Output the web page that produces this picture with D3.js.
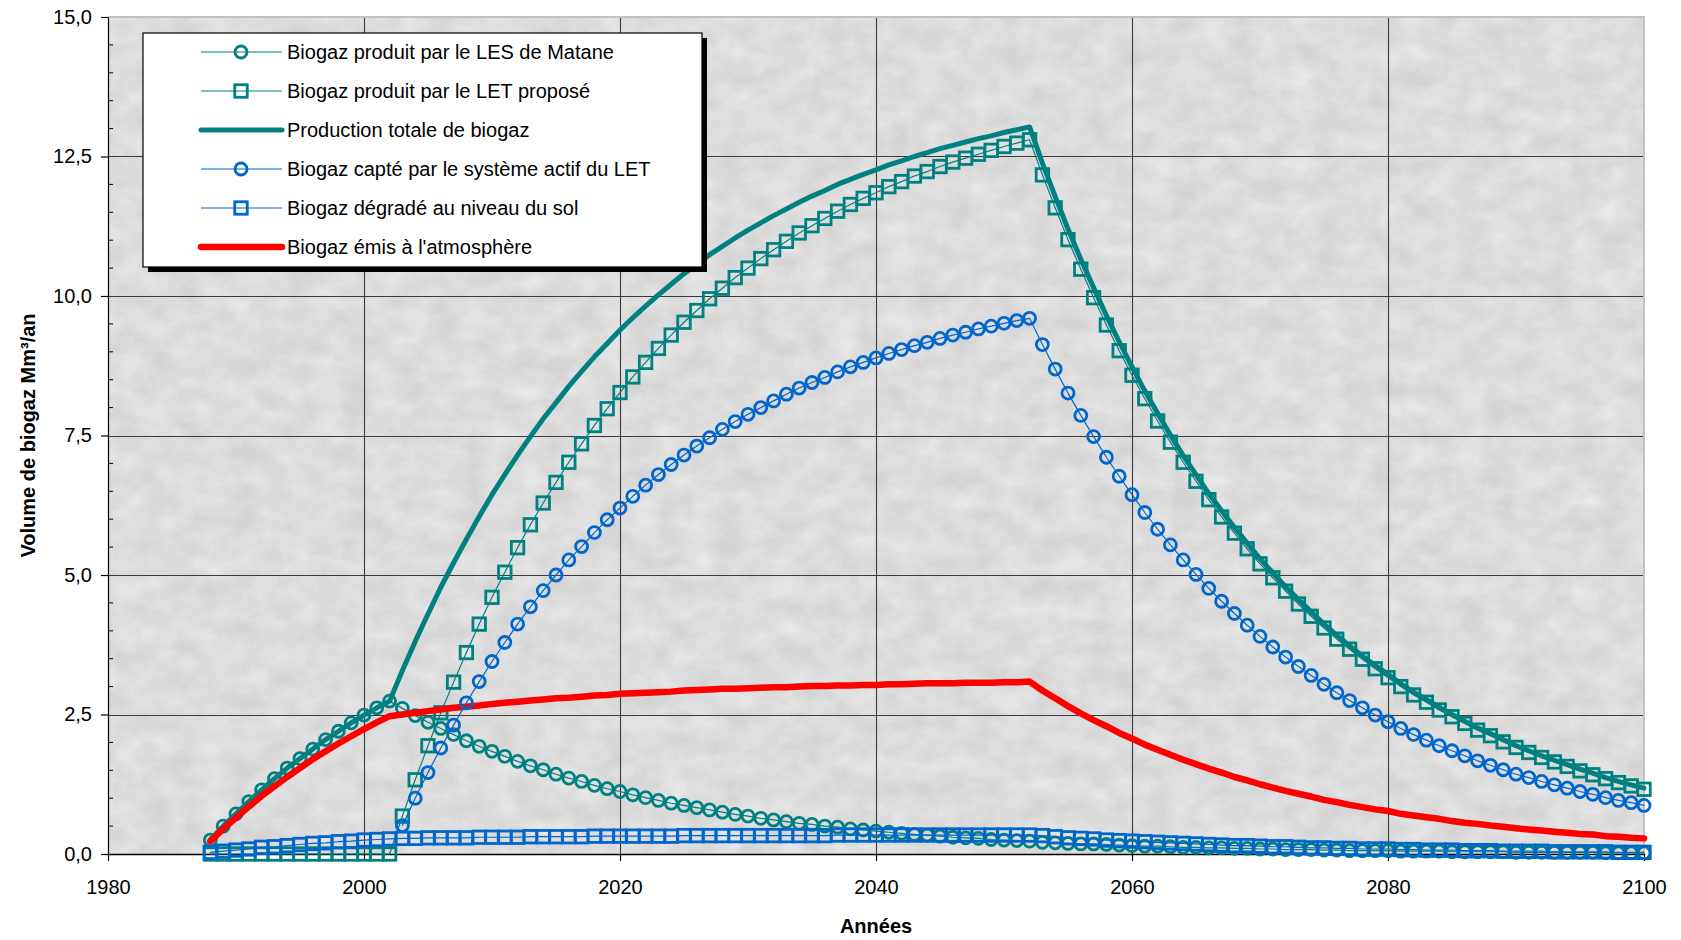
<!DOCTYPE html>
<html lang="fr">
<head>
<meta charset="utf-8">
<script src="https://cdn.jsdelivr.net/npm/d3@7"></script>
<style>
  html, body { margin: 0; padding: 0; background: #ffffff; }
  svg { display: block; }
  text { font-family: "Liberation Sans", Arial, sans-serif; fill: #000; }
</style>
</head>
<body>
<svg id="chart" width="1681" height="940"></svg>
<script>
// Années de la série (une valeur par an)
const firstYear = 1988;
const lastYear = 2100;

// Biogaz produit par le LES de Matane (Mm³/an)
const matane = [
  0.25, 0.50, 0.72, 0.94, 1.15, 1.35, 1.54, 1.71, 1.88, 2.05, 2.20, 2.35, 2.49, 2.62, 2.74,
  2.61, 2.48, 2.36, 2.25, 2.14, 2.03, 1.93, 1.84, 1.75, 1.66, 1.58, 1.51, 1.43, 1.36, 1.30,
  1.23, 1.17, 1.12, 1.06, 1.01, 0.96, 0.91, 0.87, 0.83, 0.79, 0.75, 0.71, 0.68, 0.64, 0.61,
  0.58, 0.55, 0.53, 0.50, 0.48, 0.45, 0.43, 0.41, 0.39, 0.37, 0.35, 0.34, 0.32, 0.30, 0.29,
  0.28, 0.26, 0.25, 0.24, 0.23,
  0.21, 0.20, 0.19, 0.18, 0.18, 0.17, 0.16, 0.15, 0.14, 0.14, 0.13, 0.12, 0.12, 0.11, 0.11,
  0.10, 0.10, 0.09, 0.09, 0.08, 0.08, 0.08, 0.07, 0.07, 0.06, 0.06, 0.06, 0.06, 0.05, 0.05,
  0.05, 0.05, 0.04, 0.04, 0.04, 0.04, 0.04, 0.03, 0.03, 0.03, 0.03, 0.03, 0.03, 0.03, 0.02,
  0.02, 0.02, 0.02
];

// Biogaz produit par le LET proposé
const letPropose = [
  0, 0, 0, 0, 0, 0, 0, 0, 0, 0, 0, 0, 0, 0, 0,
  0.68, 1.33, 1.94, 2.53, 3.08, 3.61, 4.12, 4.60, 5.05, 5.49, 5.90, 6.29, 6.66, 7.02, 7.35,
  7.68, 7.98, 8.27, 8.55, 8.81, 9.06, 9.30, 9.53, 9.74, 9.95, 10.14, 10.33, 10.50, 10.67, 10.83,
  10.98, 11.13, 11.26, 11.39, 11.52, 11.64, 11.75, 11.85, 11.96, 12.05, 12.15, 12.23, 12.32, 12.40, 12.47,
  12.54, 12.61, 12.68, 12.74, 12.80,
  12.17, 11.58, 11.01, 10.48, 9.97, 9.48, 9.02, 8.58, 8.16, 7.76, 7.38, 7.02, 6.68, 6.35, 6.04,
  5.75, 5.47, 5.20, 4.95, 4.71, 4.48, 4.26, 4.05, 3.85, 3.67, 3.49, 3.32, 3.16, 3.00, 2.85,
  2.72, 2.58, 2.46, 2.34, 2.22, 2.12, 2.01, 1.91, 1.82, 1.73, 1.65, 1.57, 1.49, 1.42, 1.35,
  1.28, 1.22, 1.16
];

// Production totale de biogaz
const totale = [
  0.25, 0.50, 0.72, 0.94, 1.15, 1.35, 1.54, 1.71, 1.88, 2.05, 2.20, 2.35, 2.49, 2.62, 2.74,
  3.29, 3.81, 4.30, 4.78, 5.22, 5.64, 6.05, 6.44, 6.80, 7.15, 7.48, 7.80, 8.09, 8.38, 8.65,
  8.91, 9.15, 9.39, 9.61, 9.82, 10.02, 10.21, 10.40, 10.57, 10.74, 10.89, 11.04, 11.18, 11.31, 11.44,
  11.56, 11.68, 11.79, 11.89, 12.00, 12.09, 12.18, 12.26, 12.35, 12.42, 12.50, 12.57, 12.64, 12.70, 12.76,
  12.82, 12.87, 12.93, 12.98, 13.03,
  12.38, 11.78, 11.20, 10.66, 10.15, 9.65, 9.18, 8.73, 8.30, 7.90, 7.51, 7.14, 6.80, 6.46, 6.15,
  5.85, 5.57, 5.29, 5.04, 4.79, 4.56, 4.34, 4.12, 3.92, 3.73, 3.55, 3.38, 3.22, 3.05, 2.90,
  2.77, 2.63, 2.50, 2.38, 2.26, 2.16, 2.05, 1.94, 1.85, 1.76, 1.68, 1.60, 1.52, 1.45, 1.37,
  1.30, 1.24, 1.18
];

// Biogaz capté par le système actif du LET (aucun captage avant 2003)
const capte = [
  null, null, null, null, null, null, null, null, null, null, null, null, null, null, null,
  0.51, 1.00, 1.46, 1.90, 2.31, 2.71, 3.09, 3.45, 3.79, 4.12, 4.43, 4.72, 5.00, 5.27, 5.51,
  5.76, 5.99, 6.20, 6.41, 6.61, 6.80, 6.98, 7.15, 7.31, 7.46, 7.61, 7.75, 7.88, 8.00, 8.12,
  8.24, 8.35, 8.45, 8.54, 8.64, 8.73, 8.81, 8.89, 8.97, 9.04, 9.11, 9.17, 9.24, 9.30, 9.35,
  9.41, 9.46, 9.51, 9.56, 9.60,
  9.13, 8.69, 8.26, 7.86, 7.48, 7.11, 6.77, 6.44, 6.12, 5.82, 5.54, 5.27, 5.01, 4.76, 4.53,
  4.31, 4.10, 3.90, 3.71, 3.53, 3.36, 3.20, 3.04, 2.89, 2.75, 2.62, 2.49, 2.37, 2.25, 2.14,
  2.04, 1.94, 1.85, 1.76, 1.67, 1.59, 1.51, 1.43, 1.37, 1.30, 1.24, 1.18, 1.12, 1.07, 1.01,
  0.96, 0.92, 0.87
];

// Biogaz dégradé au niveau du sol
const degrade = [
  0.03, 0.05, 0.07, 0.09, 0.12, 0.13, 0.15, 0.17, 0.19, 0.20, 0.22, 0.23, 0.25, 0.26, 0.27,
  0.28, 0.28, 0.29, 0.29, 0.29, 0.29, 0.30, 0.30, 0.30, 0.30, 0.31, 0.31, 0.31, 0.31, 0.31,
  0.32, 0.32, 0.32, 0.32, 0.32, 0.32, 0.32, 0.33, 0.33, 0.33, 0.33, 0.33, 0.33, 0.33, 0.33,
  0.33, 0.33, 0.33, 0.33, 0.34, 0.34, 0.34, 0.34, 0.34, 0.34, 0.34, 0.34, 0.34, 0.34, 0.34,
  0.34, 0.34, 0.34, 0.34, 0.34,
  0.33, 0.31, 0.29, 0.28, 0.27, 0.25, 0.24, 0.23, 0.22, 0.21, 0.20, 0.19, 0.18, 0.17, 0.16,
  0.15, 0.15, 0.14, 0.13, 0.13, 0.12, 0.11, 0.11, 0.10, 0.10, 0.09, 0.09, 0.09, 0.08, 0.08,
  0.07, 0.07, 0.07, 0.06, 0.06, 0.06, 0.05, 0.05, 0.05, 0.05, 0.04, 0.04, 0.04, 0.04, 0.04,
  0.03, 0.03, 0.03
];

// Biogaz émis à l'atmosphère
const emis = [
  0.23, 0.45, 0.65, 0.85, 1.04, 1.21, 1.38, 1.54, 1.70, 1.84, 1.98, 2.11, 2.24, 2.36, 2.47,
  2.50, 2.53, 2.56, 2.59, 2.62, 2.64, 2.66, 2.69, 2.71, 2.73, 2.75, 2.77, 2.79, 2.80, 2.82,
  2.84, 2.85, 2.87, 2.88, 2.89, 2.90, 2.91, 2.93, 2.94, 2.95, 2.96, 2.96, 2.97, 2.98, 2.99,
  2.99, 3.00, 3.01, 3.01, 3.02, 3.02, 3.03, 3.03, 3.04, 3.04, 3.05, 3.06, 3.06, 3.06, 3.07,
  3.07, 3.07, 3.08, 3.08, 3.09,
  2.93, 2.79, 2.65, 2.52, 2.40, 2.29, 2.17, 2.07, 1.96, 1.87, 1.78, 1.69, 1.61, 1.53, 1.46,
  1.38, 1.32, 1.25, 1.19, 1.13, 1.08, 1.03, 0.97, 0.93, 0.88, 0.84, 0.80, 0.77, 0.72, 0.69,
  0.66, 0.63, 0.59, 0.56, 0.54, 0.51, 0.49, 0.46, 0.44, 0.42, 0.40, 0.38, 0.36, 0.35, 0.32,
  0.31, 0.29, 0.28
];

// Graduations des axes
const xTicks = [1980, 2000, 2020, 2040, 2060, 2080, 2100];
const yTicks = [0, 2.5, 5, 7.5, 10, 12.5, 15];
const yMinorTicks = [0.5, 1, 1.5, 2, 3, 3.5, 4, 4.5, 5.5, 6, 6.5, 7, 8, 8.5, 9, 9.5,
                     10.5, 11, 11.5, 12, 13, 13.5, 14, 14.5];

const labels = [
  "Biogaz produit par le LES de Matane",
  "Biogaz produit par le LET proposé",
  "Production totale de biogaz",
  "Biogaz capté par le système actif du LET",
  "Biogaz dégradé au niveau du sol",
  "Biogaz émis à l'atmosphère"
];

const TEAL = "#008080";
const BLUE = "#0066CC";
const RED = "#FF0000";

const years = d3.range(firstYear, lastYear + 1);

const series = [
  { key: "matane",  label: labels[0], values: matane,     color: TEAL, width: 1.2, marker: "circle" },
  { key: "let",     label: labels[1], values: letPropose, color: TEAL, width: 1.2, marker: "square" },
  { key: "totale",  label: labels[2], values: totale,     color: TEAL, width: 5,   marker: null },
  { key: "capte",   label: labels[3], values: capte,      color: BLUE, width: 1.2, marker: "circle" },
  { key: "degrade", label: labels[4], values: degrade,    color: BLUE, width: 1.2, marker: "square" },
  { key: "emis",    label: labels[5], values: emis,       color: RED,  width: 6.5, marker: null }
];

const svg = d3.select("#chart");
const plot = { left: 108, right: 1644, top: 17, bottom: 854 };

const x = d3.scaleLinear().domain([1980, 2100]).range([plot.left, plot.right]);
const y = d3.scaleLinear().domain([0, 15]).range([plot.bottom, plot.top]);

// Texture marbrée grise du fond de la zone de traçage
const defs = svg.append("defs");
const f = defs.append("filter").attr("id", "marbre")
  .attr("x", 0).attr("y", 0).attr("width", "100%").attr("height", "100%");
f.append("feTurbulence").attr("type", "fractalNoise")
  .attr("baseFrequency", "0.035 0.045").attr("numOctaves", 5).attr("seed", 11).attr("result", "n");
f.append("feColorMatrix").attr("in", "n").attr("type", "matrix")
  .attr("values", "0 0 0 0 0.96  0 0 0 0 0.96  0 0 0 0 0.96  0.8 0 0 0 -0.16");

const pw = plot.right - plot.left, ph = plot.bottom - plot.top;
svg.append("rect").attr("x", plot.left).attr("y", plot.top)
  .attr("width", pw).attr("height", ph).attr("fill", "#d3d3d3");
svg.append("rect").attr("x", plot.left).attr("y", plot.top)
  .attr("width", pw).attr("height", ph).attr("fill", "#fff")
  .attr("filter", "url(#marbre)");

// Quadrillage
const grid = svg.append("g").attr("stroke", "#3a3a3a").attr("stroke-width", 1.1);
grid.selectAll("line.v").data(xTicks.filter(d => d > 1980 && d < 2100)).join("line")
  .attr("x1", d => Math.round(x(d)) + 0.5).attr("x2", d => Math.round(x(d)) + 0.5)
  .attr("y1", plot.top).attr("y2", plot.bottom);
grid.selectAll("line.h").data(yTicks.filter(d => d > 0 && d < 15)).join("line")
  .attr("y1", d => Math.round(y(d)) + 0.5).attr("y2", d => Math.round(y(d)) + 0.5)
  .attr("x1", plot.left).attr("x2", plot.right);

// Bordure claire en haut et à droite
svg.append("path")
  .attr("d", `M${plot.left},${plot.top} H${plot.right} V${plot.bottom}`)
  .attr("fill", "none").attr("stroke", "#c2c2c2").attr("stroke-width", 2);

// Axe des ordonnées
const fmtY = d => d3.format(".1f")(d).replace(".", ",");
const yAxis = svg.append("g").attr("transform", `translate(${plot.left},0)`)
  .call(d3.axisLeft(y).tickValues(yTicks).tickFormat(fmtY).tickSize(7).tickPadding(9).tickSizeOuter(0));
yAxis.select(".domain").attr("stroke", "#000").attr("stroke-width", 1.2);
yAxis.selectAll(".tick line").attr("stroke", "#000").attr("stroke-width", 1.2);
yAxis.selectAll(".tick text").attr("font-size", 20).attr("font-family", "Liberation Sans, Arial, sans-serif").attr("fill", "#000");
yAxis.selectAll("line.minor").data(yMinorTicks).join("line").attr("class", "minor")
  .attr("x1", 0).attr("x2", 5)
  .attr("y1", d => y(d)).attr("y2", d => y(d))
  .attr("stroke", "#000").attr("stroke-width", 1);

// Axe des abscisses
const xAxis = svg.append("g").attr("transform", `translate(0,${plot.bottom})`)
  .call(d3.axisBottom(x).tickValues(xTicks).tickFormat(d3.format("d")).tickSize(7).tickPadding(19).tickSizeOuter(0));
xAxis.select(".domain").attr("stroke", "#000").attr("stroke-width", 1.6);
xAxis.selectAll(".tick line").attr("stroke", "#000").attr("stroke-width", 1.2);
xAxis.selectAll(".tick text").attr("font-size", 20).attr("font-family", "Liberation Sans, Arial, sans-serif").attr("fill", "#000");

// Courbes
const line = d3.line()
  .defined(d => d.v !== null)
  .x(d => x(d.year)).y(d => y(d.v));

const pts = s => s.values.map((v, i) => ({ year: years[i], v }));

const layer = svg.append("g");
const MARK_W = 2.8;
const CIRCLE_R = 6;
const SQUARE = 12.5;

function drawLine(s) {
  layer.append("path").datum(pts(s))
    .attr("fill", "none").attr("stroke", s.color).attr("stroke-width", s.width)
    .attr("stroke-linejoin", "round").attr("stroke-linecap", "round")
    .attr("d", line);
}
function drawMarkers(s) {
  const data = pts(s).filter(d => d.v !== null);
  const g = layer.append("g").attr("fill", "none").attr("stroke", s.color).attr("stroke-width", MARK_W);
  if (s.marker === "circle") {
    g.selectAll("circle").data(data).join("circle")
      .attr("cx", d => x(d.year)).attr("cy", d => y(d.v)).attr("r", CIRCLE_R);
  } else if (s.marker === "square") {
    g.selectAll("rect").data(data).join("rect")
      .attr("x", d => x(d.year) - SQUARE / 2).attr("y", d => y(d.v) - SQUARE / 2)
      .attr("width", SQUARE).attr("height", SQUARE);
  }
}

// Ordre de tracé : LES, LET, total, émis, puis les séries du système de captage
const order = ["matane", "let", "totale", "emis", "capte", "degrade"];
order.forEach(k => {
  const s = series.find(d => d.key === k);
  drawLine(s);
  if (s.marker) drawMarkers(s);
});

// Légende
const leg = { x: 143, y: 33, w: 559, h: 234 };
svg.append("rect").attr("x", leg.x + 5).attr("y", leg.y + 5)
  .attr("width", leg.w).attr("height", leg.h).attr("fill", "#000");
svg.append("rect").attr("x", leg.x).attr("y", leg.y)
  .attr("width", leg.w).attr("height", leg.h)
  .attr("fill", "#fff").attr("stroke", "#000").attr("stroke-width", 1.2);

const rowY = i => 52 + i * 39;
const lg = svg.append("g");
series.forEach((s, i) => {
  const g = lg.append("g").attr("transform", `translate(0,${rowY(i)})`);
  g.append("line").attr("x1", 201).attr("x2", 282).attr("y1", 0).attr("y2", 0)
    .attr("stroke", s.color).attr("stroke-width", s.width > 2 ? s.width : 1.1)
    .attr("stroke-linecap", s.width > 2 ? "round" : "butt");
  if (s.marker === "circle") {
    g.append("circle").attr("cx", 241).attr("cy", 0).attr("r", CIRCLE_R)
      .attr("fill", "none").attr("stroke", s.color).attr("stroke-width", MARK_W);
  } else if (s.marker === "square") {
    g.append("rect").attr("x", 241 - SQUARE / 2).attr("y", -SQUARE / 2)
      .attr("width", SQUARE).attr("height", SQUARE)
      .attr("fill", "none").attr("stroke", s.color).attr("stroke-width", MARK_W);
  }
  g.append("text").attr("x", 287).attr("y", 0).attr("dy", "0.36em")
    .attr("font-size", 20).text(s.label);
});

// Titres des axes
svg.append("text")
  .attr("transform", `translate(35,${(plot.top + plot.bottom) / 2}) rotate(-90)`)
  .attr("text-anchor", "middle").attr("font-size", 20).attr("font-weight", "bold")
  .text("Volume de biogaz Mm³/an");
svg.append("text")
  .attr("x", (plot.left + plot.right) / 2).attr("y", 933)
  .attr("text-anchor", "middle").attr("font-size", 20).attr("font-weight", "bold")
  .text("Années");
</script>
</body>
</html>
